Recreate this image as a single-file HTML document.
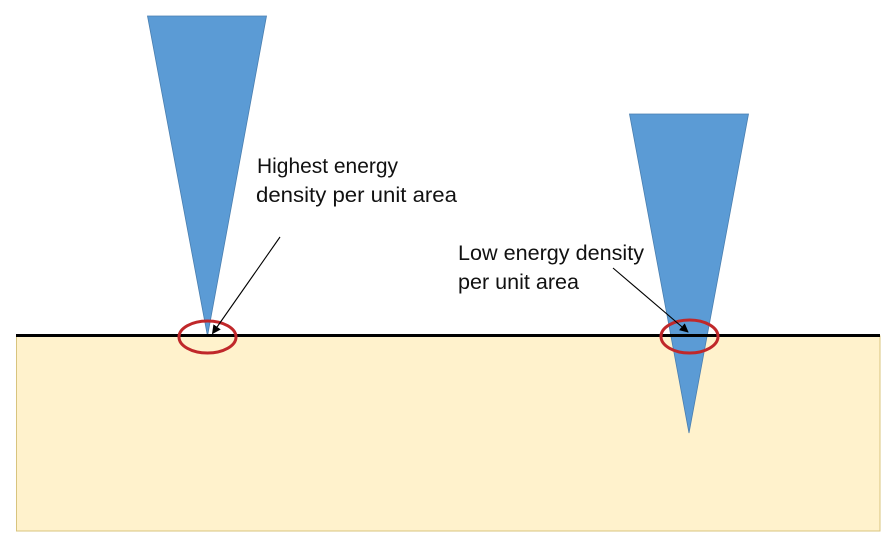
<!DOCTYPE html>
<html>
<head>
<meta charset="utf-8">
<style>
  html, body { margin: 0; padding: 0; background: #ffffff; }
  body { width: 887px; height: 543px; overflow: hidden; }
  svg { display: block; }
  text { font-family: "Liberation Sans", "DejaVu Sans", sans-serif; font-size: 21px; fill: #111; }
</style>
</head>
<body>
<svg width="887" height="543" viewBox="0 0 887 543" xmlns="http://www.w3.org/2000/svg">
  <defs>
    <marker id="ah" viewBox="0 0 10 10" refX="9" refY="5" markerWidth="9" markerHeight="9" markerUnits="userSpaceOnUse" orient="auto">
      <path d="M0,0 L10,5 L0,10 z" fill="#000"/>
    </marker>
  </defs>

  <!-- substrate -->
  <rect x="16.5" y="336" width="863.5" height="195" fill="#FFF2CC" stroke="#D8C47E" stroke-width="1"/>

  <!-- left beam -->
  <polygon points="147.5,16 266.5,16 207.5,336" fill="#5B9BD5" stroke="#4A7FB0" stroke-width="0.8"/>

  <!-- right beam -->
  <polygon points="629.5,114 748.5,114 689,433" fill="#5B9BD5" stroke="#4A7FB0" stroke-width="0.8"/>

  <!-- surface line -->
  <line x1="16" y1="335.5" x2="880" y2="335.5" stroke="#000" stroke-width="3"/>

  <!-- red ellipses -->
  <ellipse cx="207.5" cy="337" rx="28.5" ry="16" fill="none" stroke="#C0282A" stroke-width="3"/>
  <ellipse cx="689.5" cy="336.5" rx="28.5" ry="16.5" fill="none" stroke="#C0282A" stroke-width="3"/>

  <!-- arrows -->
  <line x1="280" y1="237" x2="212.5" y2="333.5" stroke="#000" stroke-width="1.1" marker-end="url(#ah)"/>
  <line x1="613" y1="268" x2="688" y2="332" stroke="#000" stroke-width="1.1" marker-end="url(#ah)"/>

  <!-- labels -->
  <text x="257" y="173" textLength="141" lengthAdjust="spacingAndGlyphs">Highest energy</text>
  <text x="256" y="202" textLength="201" lengthAdjust="spacingAndGlyphs">density per unit area</text>

  <text x="458" y="260" textLength="186" lengthAdjust="spacingAndGlyphs">Low energy density</text>
  <text x="458" y="289" textLength="121" lengthAdjust="spacingAndGlyphs">per unit area</text>
</svg>
</body>
</html>
